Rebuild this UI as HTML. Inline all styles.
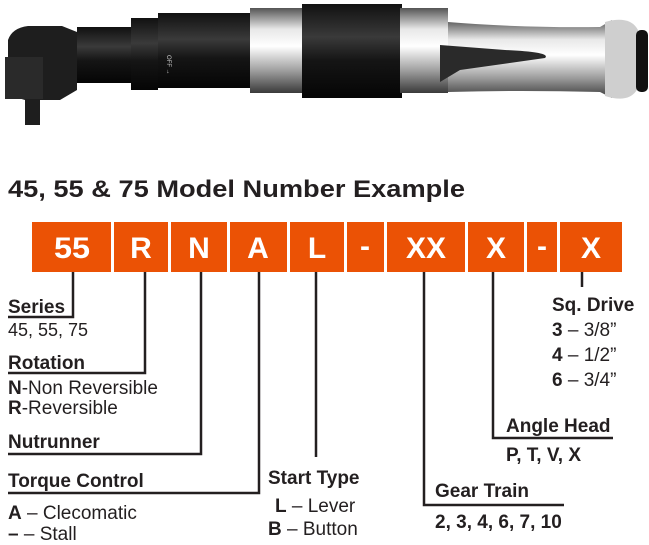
<!DOCTYPE html>
<html><head><meta charset="utf-8"><style>
html,body{margin:0;padding:0;background:#fff;}
svg{display:block;font-family:"Liberation Sans",Arial,sans-serif;}
</style></head><body>
<svg width="649" height="545" viewBox="0 0 649 545" xmlns="http://www.w3.org/2000/svg">
<defs>
<linearGradient id="sil" x1="0" y1="0" x2="0" y2="1">
<stop offset="0" stop-color="#555"/><stop offset="0.25" stop-color="#e8e8e8"/><stop offset="0.45" stop-color="#fff"/><stop offset="0.75" stop-color="#9a9a9a"/><stop offset="1" stop-color="#3a3a3a"/>
</linearGradient>
<linearGradient id="blk" x1="0" y1="0" x2="0" y2="1">
<stop offset="0" stop-color="#111"/><stop offset="0.35" stop-color="#3a3a3a"/><stop offset="0.6" stop-color="#151515"/><stop offset="1" stop-color="#050505"/>
</linearGradient>
</defs>
<!-- tool -->
<path d="M8 40 Q12 28 28 26 L62 26 L77 32 L77 90 L60 100 L40 100 L40 125 L25 125 L25 100 L8 95 Z" fill="#1e1e1e"/>
<rect x="5" y="57" width="38" height="42" fill="#2a2a2a"/>
<rect x="77" y="27" width="54" height="56" fill="url(#blk)"/>
<rect x="131" y="18" width="27" height="72" fill="url(#blk)"/>
<rect x="158" y="13" width="92" height="75" fill="url(#blk)"/>
<rect x="250" y="8" width="54" height="85" fill="url(#sil)"/>
<rect x="302" y="4" width="100" height="94" fill="url(#blk)"/>
<rect x="400" y="8" width="48" height="85" fill="url(#sil)"/>
<path d="M448 22 Q520 28 600 27 L612 20 L612 98 L600 92 Q520 90 448 92 Z" fill="url(#sil)"/>
<path d="M440 45 L505 50 Q552 52 545 58 L460 70 L440 82 Z" fill="#2a2a2a"/>
<path d="M605 22 Q630 15 638 30 L638 88 Q630 104 605 96 Z" fill="#cfcfcf"/>
<rect x="636" y="30" width="12" height="62" rx="5" fill="#111"/>
<text x="167" y="55" font-size="6" fill="#ccc" transform="rotate(90 167 55)">OFF →</text>
<!-- title -->
<text x="8" y="197" font-size="24" font-weight="bold" fill="#231f20" textLength="457" lengthAdjust="spacingAndGlyphs">45, 55 &amp; 75 Model Number Example</text>
<!-- boxes -->
<g fill="#eb5205">
<rect x="32" y="222" width="79" height="50"/><rect x="114" y="222" width="54" height="50"/>
<rect x="171" y="222" width="56" height="50"/><rect x="230" y="222" width="57" height="50"/>
<rect x="290" y="222" width="54" height="50"/><rect x="347" y="222" width="37" height="50"/>
<rect x="387" y="222" width="78" height="50"/><rect x="468" y="222" width="56" height="50"/>
<rect x="527" y="222" width="30" height="50"/><rect x="560" y="222" width="62" height="50"/>
</g>
<g fill="#fff" font-weight="bold" font-size="30" text-anchor="middle">
<text x="72" y="258" textLength="36" lengthAdjust="spacingAndGlyphs">55</text>
<text x="141" y="258">R</text><text x="199" y="258">N</text><text x="258" y="258">A</text>
<text x="317" y="258">L</text><text x="365" y="256">-</text>
<text x="426" y="258" textLength="40" lengthAdjust="spacingAndGlyphs">XX</text>
<text x="496" y="258">X</text><text x="542" y="256">-</text><text x="591" y="258">X</text>
</g>
<!-- connectors -->
<g stroke="#231f20" stroke-width="2.5" fill="none">
<path d="M8 317 H73 V272"/>
<path d="M8 373 H145 V272"/>
<path d="M8 454 H201 V272"/>
<path d="M8 493 H259 V272"/>
<path d="M316 272 V457"/>
<path d="M424 272 V505 H564"/>
<path d="M493 272 V438 H613"/>
<path d="M582 272 V287"/>
</g>
<g fill="#231f20" font-size="19">
<text x="8" y="313" font-weight="bold">Series</text>
<text x="8" y="336" font-size="18">45, 55, 75</text>
<text x="8" y="369" font-weight="bold">Rotation</text>
<text x="8" y="394"><tspan font-weight="bold">N</tspan>-Non Reversible</text>
<text x="8" y="414"><tspan font-weight="bold">R</tspan>-Reversible</text>
<text x="8" y="448" font-weight="bold">Nutrunner</text>
<text x="8" y="487" font-weight="bold">Torque Control</text>
<text x="8" y="519"><tspan font-weight="bold">A</tspan> – Clecomatic</text>
<text x="8" y="540"><tspan font-weight="bold">–</tspan> – Stall</text>
<text x="268" y="484" font-weight="bold">Start Type</text>
<text x="275" y="512"><tspan font-weight="bold">L</tspan> – Lever</text>
<text x="268" y="535"><tspan font-weight="bold">B</tspan> – Button</text>
<text x="435" y="497" font-weight="bold">Gear Train</text>
<text x="435" y="528" font-weight="bold">2, 3, 4, 6, 7, 10</text>
<text x="506" y="432" font-weight="bold">Angle Head</text>
<text x="506" y="461" font-weight="bold">P, T, V, X</text>
<text x="552" y="311" font-weight="bold">Sq. Drive</text>
<text x="552" y="336"><tspan font-weight="bold">3</tspan> – 3/8”</text>
<text x="552" y="361"><tspan font-weight="bold">4</tspan> – 1/2”</text>
<text x="552" y="386"><tspan font-weight="bold">6</tspan> – 3/4”</text>
</g>
</svg>
</body></html>
